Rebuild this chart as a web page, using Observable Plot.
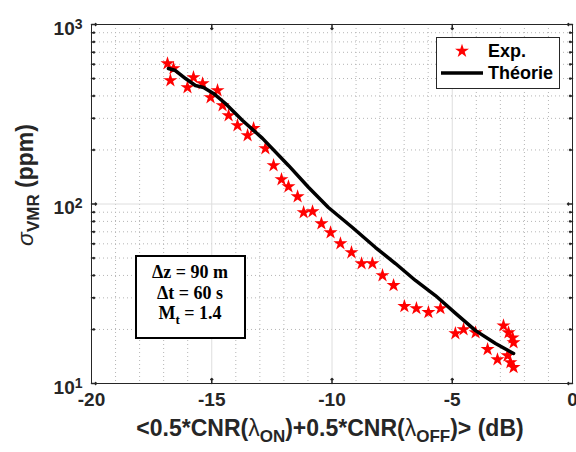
<!DOCTYPE html>
<html><head><meta charset="utf-8">
<script src="https://cdn.jsdelivr.net/npm/d3@7"></script>
<script src="https://cdn.jsdelivr.net/npm/@observablehq/plot@0.6"></script>
<style>
html,body{margin:0;padding:0;background:#fff;}
#chart{width:576px;height:452px;}
</style></head><body><div id="chart"></div>
<script>
// Experimental points
const expX = [-16.84,-16.59,-16.72,-16.01,-15.76,-15.38,-15.05,-14.76,-14.55,-14.30,-13.93,-13.51,-13.26,-12.77,-12.43,-12.10,-11.81,-11.43,-11.18,-10.81,-10.44,-10.06,-9.65,-9.19,-8.77,-8.32,-7.90,-7.44,-6.99,-6.49,-5.99,-5.49,-4.87,-4.53,-4.03,-3.53,-3.12,-2.87,-2.66,-2.49,-2.45,-2.70,-2.58,-2.45];
const expY = [606,569,488,446,507,469,392,429,354,311,274,241,264,204,164,137,125,110,89.7,90.8,77.8,69.3,60.2,53.7,46.6,46.6,40.0,35.2,26.9,26.2,24.9,26.2,19.0,20.0,19.2,15.5,13.6,21.0,19.2,18.0,16.9,14.3,13.1,12.3];
// Theory curve
const theoX = [-16.80,-16.51,-16.09,-15.68,-15.34,-14.93,-14.43,-13.72,-12.89,-11.81,-10.98,-10.15,-9.15,-8.19,-7.36,-6.53,-5.70,-4.86,-4.03,-3.20,-2.45];
const theoY = [569,554,500,457,446,413,363,292,232,164,124,95.6,74.0,57.2,46.6,37.5,30.9,24.6,19.7,16.7,14.7];
// Ticks
const xTicks = [-20,-15,-10,-5,0];
const xTickLabels = ["-20","-15","-10","-5","0"];
const yTicks = [10,100,1000];
const yTickExps = ["1","2","3"];
const legendLabels = ["Exp.","Théorie"];
const annotLines = [["Δz = 90 m"],["Δt = 60 s"],["M","t"," = 1.4"]];

const exp = expX.map((x,i)=>({x, y: expY[i]}));
const theo = theoX.map((x,i)=>({x, y: theoY[i]}));
const xMinor = d3.range(-19,0).filter(v => v % 5 !== 0);
const yMinor = [];
for (const k of [10,100]) for (let m=2;m<=9;m++) yMinor.push(m*k);

const axisColor = "#262626";
const plot = Plot.plot({
  width:576, height:452,
  marginLeft:91, marginRight:4, marginTop:24, marginBottom:69,
  x:{domain:[-20,0]},
  y:{type:"log", domain:[10,1000]},
  style:{fontFamily:"'Liberation Sans', Arial, sans-serif", background:"#fff"},
  marks:[
    Plot.gridX(xMinor,{stroke:"#b5b5b5", strokeOpacity:1, strokeDasharray:"1,3"}),
    Plot.gridY(yMinor,{stroke:"#b5b5b5", strokeOpacity:1, strokeDasharray:"1,3"}),
    Plot.gridX([-15,-10,-5],{stroke:"#dedede", strokeOpacity:1}),
    Plot.gridY([100],{stroke:"#dedede", strokeOpacity:1}),
    Plot.frame({stroke:axisColor}),
    Plot.vectorX(xTicks.slice(1,-1),{frameAnchor:"bottom", length:5, anchor:"start", stroke:axisColor}),
    Plot.vectorX(xTicks.slice(1,-1),{frameAnchor:"top", length:5, rotate:180, anchor:"start", stroke:axisColor}),
    Plot.vectorY(yTicks,{frameAnchor:"left", length:5, rotate:90, anchor:"start", stroke:axisColor}),
    Plot.vectorY(yTicks,{frameAnchor:"right", length:5, rotate:-90, anchor:"start", stroke:axisColor}),
    Plot.vectorY(yMinor,{frameAnchor:"left", length:3, rotate:90, anchor:"start", stroke:axisColor}),
    Plot.vectorY(yMinor,{frameAnchor:"right", length:3, rotate:-90, anchor:"start", stroke:axisColor}),
    Plot.axisX(xTicks,{tickSize:0, tickPadding:9, label:null, tickFormat:d=>xTickLabels[xTicks.indexOf(d)], fontSize:19, fontWeight:"bold", fill:axisColor}),
    Plot.axisY(yTicks,{tickSize:0, tickPadding:9, label:null, tickFormat:()=>"10", fontSize:19, fontWeight:"bold", fill:axisColor, dy:4}),
    Plot.dot(exp,{x:"x", y:"y", symbol:"star", fill:"#ff0000", r:4.4}),
    Plot.line(theo,{x:"x", y:"y", stroke:"#000", strokeWidth:3.5})
  ]
});
document.getElementById("chart").appendChild(plot);
const svg = d3.select(plot);

// superscripts on y tick labels
svg.selectAll('g[aria-label="y-axis tick label"] text').each(function(d,i){
  d3.select(this).append("tspan").attr("dy","-0.42em").attr("font-size",14).text(yTickExps[i]);
});

const F = "'Liberation Sans', Arial, sans-serif";
// x label
const xl = svg.append("text").attr("x",330).attr("y",436).attr("text-anchor","middle")
  .attr("font-family",F).attr("font-size",23).attr("font-weight","bold").attr("fill",axisColor);
xl.append("tspan").text("<0.5*CNR(");
xl.append("tspan").attr("font-weight","normal").text("λ");
xl.append("tspan").attr("dy",6).attr("font-size",17).text("ON");
xl.append("tspan").attr("dy",-6).text(")+0.5*CNR(");
xl.append("tspan").attr("font-weight","normal").text("λ");
xl.append("tspan").attr("dy",6).attr("font-size",17).text("OFF");
xl.append("tspan").attr("dy",-6).text(")> (dB)");

// y label
const yl = svg.append("text").attr("transform","translate(33,185) rotate(-90)").attr("text-anchor","middle")
  .attr("font-family",F).attr("font-size",23).attr("font-weight","bold").attr("fill",axisColor);
yl.append("tspan").attr("font-style","italic").attr("font-weight","normal").text("σ");
yl.append("tspan").attr("dy",6).attr("font-size",17).text("VMR");
yl.append("tspan").attr("dy",-6).text(" (ppm)");

// legend
const lg = svg.append("g").attr("text-anchor","start");
lg.append("rect").attr("x",436.5).attr("y",37.5).attr("width",123).attr("height",51)
  .attr("fill","#fff").attr("stroke",axisColor).attr("stroke-width",1);
lg.append("path").attr("transform","translate(462,51)").attr("d",d3.symbol(d3.symbolStar, Math.PI*4.4*4.4)()).attr("fill","#ff0000");
lg.append("line").attr("x1",441).attr("x2",483).attr("y1",73).attr("y2",73).attr("stroke","#000").attr("stroke-width",3.5);
lg.append("text").attr("x",488).attr("y",57).attr("text-anchor","start").attr("font-family",F).attr("font-size",18).attr("font-weight","bold").attr("fill","#000").text(legendLabels[0]);
lg.append("text").attr("x",488).attr("y",79).attr("text-anchor","start").attr("font-family",F).attr("font-size",18).attr("font-weight","bold").attr("fill","#000").text(legendLabels[1]);

// annotation box
const an = svg.append("g");
an.append("rect").attr("x",136).attr("y",256).attr("width",109).attr("height",82)
  .attr("fill","#fff").attr("stroke","#000").attr("stroke-width",2);
const SF = "'Liberation Serif', 'Times New Roman', serif";
const ys = [278, 299, 319];
annotLines.forEach((ln,i)=>{
  const t = an.append("text").attr("x",190).attr("y",ys[i]).attr("text-anchor","middle")
    .attr("font-family",SF).attr("font-size",18).attr("font-weight","bold").attr("fill","#000");
  if (ln.length === 3) {
    t.append("tspan").text(ln[0]);
    t.append("tspan").attr("dy",5).attr("font-size",13).text(ln[1]);
    t.append("tspan").attr("dy",-5).text(ln[2]);
  } else {
    t.text(ln[0]);
  }
});
</script></body></html>
